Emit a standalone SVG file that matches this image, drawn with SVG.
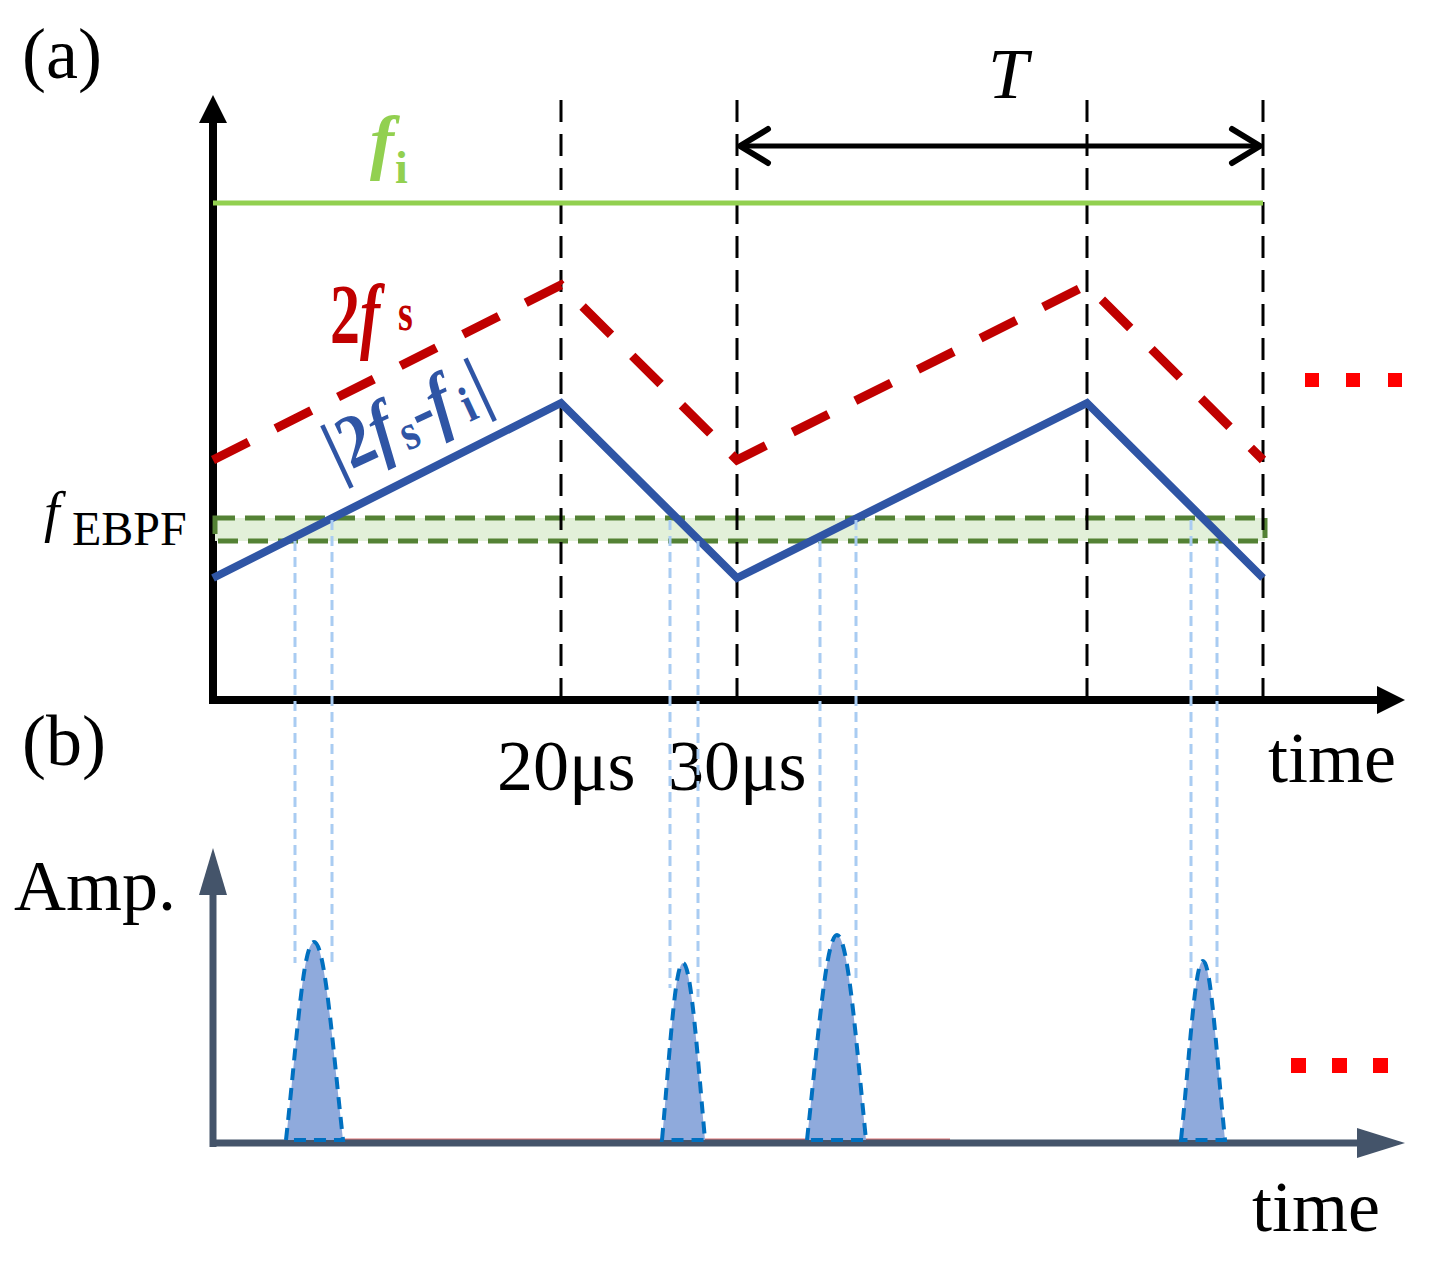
<svg xmlns="http://www.w3.org/2000/svg" width="1433" height="1266" viewBox="0 0 1433 1266">
<style>
  text { font-family: "Liberation Serif", "Times New Roman", serif; }
  .lbl { font-size: 72px; fill: #000; }
  .vdash { stroke: #000; stroke-width: 3; stroke-dasharray: 22 12; fill: none; }
  .proj { stroke: #A9CCF2; stroke-width: 3; stroke-dasharray: 10 6; fill: none; }
  .peak { fill: #8FAADC; stroke: #0070C0; stroke-width: 4; stroke-dasharray: 12 8; }
  .dot { fill: #FF0000; }
</style>

<g id="labels">
  <text class="lbl" x="22" y="78">(a)</text>
  <text class="lbl" x="22" y="765">(b)</text>
  <text class="lbl" x="988" y="98" font-style="italic">T</text>
  <text class="lbl" x="497" y="790" font-size="71">20μs</text>
  <text class="lbl" x="668" y="790" font-size="71">30μs</text>
  <text class="lbl" x="1268" y="782" font-size="73">time</text>
  <text class="lbl" x="1252" y="1231" font-size="73">time</text>
  <text class="lbl" x="14" y="910">Amp.</text>
  <text x="44" y="531" font-size="56" font-style="italic" fill="#000">f</text>
  <text x="72" y="545" font-size="48" fill="#000">EBPF</text>
  <text x="370" y="166" font-size="72" font-style="italic" font-weight="bold" fill="#92D050">f</text>
  <text x="395" y="183" font-size="46" font-weight="bold" fill="#92D050">i</text>
</g>

<g id="top-axes">
  <line x1="213" y1="704" x2="213" y2="121" stroke="#000" stroke-width="8"/>
  <polygon points="199,123 213,95 227,123" fill="#000"/>
  <line x1="209" y1="700" x2="1379" y2="700" stroke="#000" stroke-width="8"/>
  <polygon points="1377,686 1405,700 1377,714" fill="#000"/>
</g>

<g id="band">
  <rect x="215" y="518" width="1050" height="23" fill="#E2F0D9" stroke="#548235" stroke-width="5" stroke-dasharray="20 10"/>
</g>

<g id="guides">
  <line class="vdash" x1="561" y1="100" x2="561" y2="697"/>
  <line class="vdash" x1="737" y1="100" x2="737" y2="697"/>
  <line class="vdash" x1="1087" y1="100" x2="1087" y2="697"/>
  <line class="vdash" x1="1263" y1="100" x2="1263" y2="697"/>
</g>

<g id="fi-line">
  <line x1="213" y1="203" x2="1263" y2="203" stroke="#92D050" stroke-width="5"/>
</g>

<g id="period-arrow">
  <line x1="739" y1="146" x2="1261" y2="146" stroke="#000" stroke-width="5"/>
  <polyline points="768,129 740,146 768,163" fill="none" stroke="#000" stroke-width="6" stroke-linecap="round" stroke-linejoin="round"/>
  <polyline points="1232,129 1260,146 1232,163" fill="none" stroke="#000" stroke-width="6" stroke-linecap="round" stroke-linejoin="round"/>
</g>

<g id="curve-2fs">
  <polyline points="213,460 561,285 737,460 1087,285 1263,460" fill="none" stroke="#C00000" stroke-width="9" stroke-dasharray="40 30"/>
  <text transform="translate(330,343) scale(1,1.4)" font-size="60" font-weight="bold" fill="#C00000"><tspan x="0">2</tspan><tspan x="30" font-style="italic">f</tspan><tspan x="68" y="-9" font-size="38">s</tspan></text>
</g>

<g id="curve-diff">
  <polyline points="213,578 561,403 737,578 1087,403 1263,578" fill="none" stroke="#2F55A5" stroke-width="8" stroke-linejoin="miter"/>
  <text transform="translate(338,476) rotate(-25) scale(1,1.15)" font-size="66" font-weight="bold" fill="#2F55A5"><tspan x="0">|2</tspan><tspan x="48" font-style="italic">f</tspan><tspan x="74" y="6" font-size="44">s</tspan><tspan x="92" y="0">-</tspan><tspan x="112" font-style="italic">f</tspan><tspan x="142" y="6" font-size="44">i</tspan><tspan x="158" y="0">|</tspan></text>
</g>

<g id="projections">
  <line class="proj" x1="295" y1="541" x2="295" y2="963"/>
  <line class="proj" x1="332" y1="520" x2="332" y2="965"/>
  <line class="proj" x1="670" y1="520" x2="670" y2="988"/>
  <line class="proj" x1="698" y1="541" x2="698" y2="997"/>
  <line class="proj" x1="820" y1="541" x2="820" y2="968"/>
  <line class="proj" x1="856" y1="520" x2="856" y2="983"/>
  <line class="proj" x1="1191" y1="520" x2="1191" y2="983"/>
  <line class="proj" x1="1217" y1="541" x2="1217" y2="985"/>
</g>

<g id="bottom-axes">
  <line x1="300" y1="1139.5" x2="950" y2="1139.5" stroke="#C00000" stroke-width="2" opacity="0.55"/>
  <line x1="213" y1="1147" x2="213" y2="893" stroke="#44546A" stroke-width="7"/>
  <polygon points="199,895 213,848 227,895" fill="#44546A"/>
  <line x1="210" y1="1143" x2="1359" y2="1143" stroke="#44546A" stroke-width="7"/>
  <polygon points="1357,1128 1405,1143 1357,1158" fill="#44546A"/>
</g>

<g id="peaks">
  <path class="peak" d="M286,1140 C297,1040 303,942 314,942 C325,942 332,1040 343,1140 Z"/>
  <path class="peak" d="M662,1140 C670,1050 675,963 683,963 C691,963 697,1050 705,1140 Z"/>
  <path class="peak" d="M807,1140 C818,1040 826,935 837,935 C848,935 856,1040 866,1140 Z"/>
  <path class="peak" d="M1181,1140 C1190,1050 1195,961 1203,961 C1211,961 1216,1050 1225,1140 Z"/>
</g>

<g id="ellipsis-top">
  <rect class="dot" x="1305" y="373" width="14" height="14"/>
  <rect class="dot" x="1346" y="373" width="14" height="14"/>
  <rect class="dot" x="1388" y="373" width="14" height="14"/>
</g>
<g id="ellipsis-bottom">
  <rect class="dot" x="1291" y="1058" width="15" height="15"/>
  <rect class="dot" x="1332" y="1058" width="15" height="15"/>
  <rect class="dot" x="1373" y="1058" width="15" height="15"/>
</g>
</svg>
